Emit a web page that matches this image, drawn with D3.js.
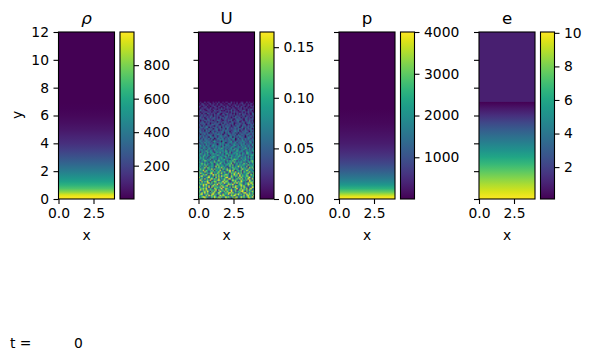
<!DOCTYPE html>
<html><head><meta charset="utf-8">
<script src="https://cdn.jsdelivr.net/npm/d3@7"></script>
<style>html,body{margin:0;background:#fff}svg{display:block}text{font-family:"DejaVu Sans";fill:#000}</style>
</head><body><svg id="c" width="591" height="360"></svg>
<script>
const xTicks=[0,2.5], xLabels=["0.0","2.5"], yTicks=[0,2,4,6,8,10,12];
const profileY=[0,0.15,0.3,0.5,0.75,1,1.25,1.5,2,2.5,3,3.5,4,4.5,5,5.5,6,6.5,6.95,7,12];
const rhoValues=[998,985,940,830,720,640,575,520,420,330,255,190,135,95,62,38,20,8,2,1,1];
const pValues=[4000,3900,3550,3050,2550,2150,1850,1600,1200,880,640,450,310,210,130,75,38,14,3,2,1];
const eProfileY=[0,0.5,1,1.5,2,2.5,3,3.5,4,4.5,5,5.5,6,6.5,6.8,6.97,7.01,12];
const eValues=[10.05,9.5,8.85,8.2,7.5,6.75,6,5.2,4.45,3.7,2.95,2.2,1.45,0.75,0.3,0.12,0.93,0.93];
const uTop=[0,0];
const uTopY=[7,12];
const uLevelMax=0.165;
const uRows=[
"0100201100101020010110020101001100201001",
"1021010120110201101002110102011201010210",
"0112102011201101210110201120110121021101",
"2101120101121021012021011021202110110212",
"1021211021012110201121202101112021201011",
"0211012120211021312011021210212011021321",
"1312101211031212010212130211021231021201",
"2021231120212013212102021312101202131120",
"1202103212120231021231120202131212021032",
"2131220212031220132021221302120322112023",
"0221312123021213102231212032212130221312",
"2312022131231202231321202231230212312021",
"1223103212321213022312131023223103212231",
"3021322312021332102213230213321202313120",
"2132031222313022132312023122301321223130",
"1323212302132231303221323012232130233212",
"3122302213322310232132213032231232021323",
"2303132232103223131422302213320323132230",
"1332243021323124032233121332302412231324",
"3221321423023313223042132231332204132302",
"2313042231323302142332212332403123212332",
"3322132403312322331423022342311323320413",
"1423323021424132330324213313042233124233",
"3032413323132442302313423240313322342132",
"2423132342033124323420332413342230413324",
"3314232043324133423132440323143320243413",
"4132332413302342341324233502413323243132",
"2341433224031325342323414302332514232334",
"3423243331453223043423351324233442315324",
"1342533423142334253023442351334243223514",
"4233152342433025342434133524234351423243",
"3524243413534234251443323542415334243152",
"2433514324425343153424245313442534243315",
"4315342541334253642342451353424336415243",
"3452415334262435342514343625413452434253",
"5243364254135343452641534236435413524346",
"4153426345314536243542613454352432653414",
"3642535143645234351563424536341542653435",
"5334625415343652453416354245363524143564",
"4526344153654235434625154353642435261543",
"3645251436534254631543562435416345253644",
"5436425361435263546342154765342536241543",
"4254763524361574354263647351425364352674",
"6342534165374425635143562743546324156374",
"3574625436415637425346571436254374615254",
"5463746235514763542564737145363654274536",
"4625371546438274563514736254846352714563",
"6354827635416574836251547463527364518473",
"5736415648273546175483625746315846274537",
"3648275364716548352476938415637254863542",
"7352864157463582647315946382546175348265",
"4865326479153764825436175864937254683517",
"6247583164958372546874163957284635741856",
"5793624851736482957364185476293754862547",
"8364257946518374625893476152748536479263",
"4572836169475382647518936247583716495283",
"6935247581364796258473159674238564719526",
"5284769316587243695874126583749625138674",
"7463528947156386729547361859476325684971",
"3758694263584917463258769341578526497385",
"6429375816947253864791536287459683172564",
"8536472918365748296453718694527386415297",
"4768593264187536924875361469258374816952",
"5947286375649183572846693571284965738426",
"7326849517386259647385194273658941736584",
"6485937264871596324758968342571689347265",
"3892657418936475285649173586947264958371",
"7564283968475139687253486971645382795648",
"5379846127596384725968347158249673586491",
"8645972536184779352864615897437264189556"
];
const uCols=40, cellDx=0.1, cellDy=0.1;
const cbRho=[200,400,600,800], cbU=[0,0.05,0.10,0.15], cbP=[1000,2000,3000,4000], cbE=[2,4,6,8,10];

const svg=d3.select("#c");
const color=d3.interpolateViridis;
const axTop=32, axBottom=199, axW=56, cbGap=5, cbW=14;
const panels=[
 {left:58.5,title:"ρ",italic:true,ys:profileY,vals:rhoValues,dom:[1,998],ticks:cbRho,fmt:d3.format("d"),showY:true},
 {left:198.5,title:"U",noise:true,dom:[0,uLevelMax],ticks:cbU,fmt:d3.format(".2f"),cbLeft:260},
 {left:339,title:"p",ys:profileY,vals:pValues,dom:[1,4000],ticks:cbP,fmt:d3.format("d")},
 {left:479,title:"e",ys:eProfileY,vals:eValues,dom:[0.1,10.05],ticks:cbE,fmt:d3.format("d")}
];
const y=d3.scaleLinear().domain([0,12]).range([axBottom,axTop]);
const defs=svg.append("defs");
const cbg=defs.append("linearGradient").attr("id","cb").attr("x1",0).attr("x2",0).attr("y1",1).attr("y2",0);
d3.range(0,1.0001,0.05).forEach(t=>cbg.append("stop").attr("offset",t).attr("stop-color",color(t)));

function styleAxis(g){
  g.selectAll(".domain").remove();
  g.selectAll("line").attr("stroke","#000").attr("stroke-width",1.1);
  g.selectAll("text").attr("font-size",13.89).attr("font-family","DejaVu Sans");
}
panels.forEach((p,i)=>{
  const x=d3.scaleLinear().domain([0,4]).range([p.left,p.left+axW]);
  const c=d3.scaleLinear().domain(p.dom).range([0,1]).clamp(true);
  const g=svg.append("g");
  if(p.noise){
    g.append("rect").attr("x",x(0)).attr("width",axW).attr("y",y(uTopY[1])).attr("height",y(0)-y(uTopY[1])).attr("fill",color(c(uTop[0])));
    const cv=document.createElement("canvas");
    cv.width=uCols; cv.height=uRows.length;
    const ctx=cv.getContext("2d");
    uRows.forEach((row,r)=>{
      row.split("").map(Number).forEach((d,k)=>{
        ctx.fillStyle=color(c(d/9*uLevelMax));
        ctx.fillRect(k,r,1,1);
      });
    });
    g.append("image").attr("href",cv.toDataURL())
      .attr("x",x(0)).attr("width",x(uCols*cellDx)-x(0))
      .attr("y",y(uTopY[0])).attr("height",y(uTopY[0]-uRows.length*cellDy)-y(uTopY[0]))
      .attr("preserveAspectRatio","none");
  } else {
    const id="grad"+i;
    const lg=defs.append("linearGradient").attr("id",id).attr("gradientUnits","userSpaceOnUse")
      .attr("x1",0).attr("x2",0).attr("y1",y(0)).attr("y2",y(12));
    p.ys.forEach((v,k)=>lg.append("stop").attr("offset",v/12).attr("stop-color",color(c(p.vals[k]))));
    g.append("rect").attr("x",x(0)).attr("width",axW).attr("y",axTop).attr("height",axBottom-axTop).attr("fill",`url(#${id})`);
  }
  g.append("rect").attr("x",x(0)).attr("width",axW).attr("y",axTop).attr("height",axBottom-axTop)
    .attr("fill","none").attr("stroke","#000").attr("stroke-width",1.1);
  const ax=d3.axisBottom(x).tickValues(xTicks).tickFormat((d,k)=>xLabels[k]).tickSize(5).tickPadding(4.5);
  svg.append("g").attr("transform",`translate(0,${axBottom})`).call(ax).call(styleAxis);
  const ay=d3.axisLeft(y).tickValues(yTicks).tickSize(5).tickPadding(4.5).tickFormat(p.showY?d3.format("d"):"");
  svg.append("g").attr("transform",`translate(${p.left},0)`).call(ay).call(styleAxis);
  svg.append("text").attr("x",p.left+axW/2).attr("y",240).attr("text-anchor","middle").attr("font-size",13.89).text("x");
  const t=svg.append("text").attr("x",p.left+axW/2).attr("y",24).attr("text-anchor","middle").attr("font-size",16.67).text(p.title);
  if(p.italic) t.attr("font-style","italic");
  const cbL=p.cbLeft||p.left+axW+cbGap+0.5;
  svg.append("rect").attr("x",cbL).attr("y",axTop).attr("width",cbW).attr("height",axBottom-axTop)
    .attr("fill","url(#cb)").attr("stroke","#000").attr("stroke-width",1.1);
  const cs=d3.scaleLinear().domain(p.dom).range([axBottom,axTop]);
  svg.append("g").attr("transform",`translate(${cbL+cbW},0)`)
    .call(d3.axisRight(cs).tickValues(p.ticks).tickSize(5).tickPadding(4.5).tickFormat(p.fmt)).call(styleAxis);
});
svg.append("text").attr("transform","translate(22,115) rotate(-90)").attr("text-anchor","middle").attr("font-size",13.89).text("y");
svg.append("text").attr("x",10).attr("y",348).attr("font-size",13.89).text("t =");
svg.append("text").attr("x",74).attr("y",348).attr("font-size",13.89).text("0");
</script></body></html>
